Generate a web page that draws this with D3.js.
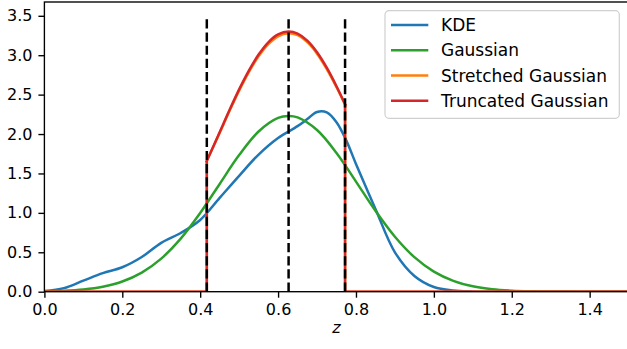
<!DOCTYPE html>
<html><head><meta charset="utf-8">
<script src="https://cdn.jsdelivr.net/npm/d3@7"></script>
<style>
html,body{margin:0;padding:0;background:#fff;}
svg{display:block;font-family:"DejaVu Sans",sans-serif;}
</style></head>
<body><svg id="c" width="627" height="349"></svg>
<script>
// ---- data ----
const kdeZ = [0,0.05,0.1,0.15,0.2,0.25,0.3,0.35,0.4,0.45,0.5,0.55,0.6,0.65,0.675,0.7,0.725,0.75,0.775,0.8,0.85,0.9,0.95,1.0,1.05,1.1,1.15,1.5];
const kdeVal = [0.01,0.045,0.14,0.235,0.31,0.44,0.62,0.745,0.91,1.19,1.47,1.74,1.95,2.10,2.19,2.28,2.275,2.15,1.92,1.62,1.05,0.50,0.20,0.06,0.015,0.003,0,0];

const gaussZ = [0,0.05,0.1,0.15,0.2,0.25,0.3,0.35,0.4,0.45,0.5,0.55,0.6,0.627,0.65,0.7,0.75,0.8,0.85,0.9,0.95,1.0,1.05,1.1,1.15,1.2,1.25,1.3,1.35,1.4,1.5];
const gaussVal = [0.005,0.012,0.029,0.064,0.130,0.243,0.420,0.673,0.998,1.367,1.733,2.032,2.204,2.229,2.211,2.051,1.760,1.397,1.026,0.697,0.438,0.254,0.137,0.068,0.031,0.013,0.005,0.002,0.001,0,0];

const cutZ = [0.417,0.45,0.475,0.5,0.525,0.55,0.575,0.6,0.627,0.65,0.675,0.7,0.725,0.75,0.772];
const truncVal = [1.658,2.023,2.301,2.566,2.805,3.008,3.164,3.263,3.30,3.273,3.184,3.037,2.841,2.606,2.377];
const stretchVal = [1.66,2.015,2.29,2.55,2.785,2.985,3.14,3.24,3.28,3.255,3.165,3.02,2.825,2.595,2.375];

const vLinesZ = [0.417,0.627,0.772];
const vLineTop = 3.5;
const zRange = [0,1.5];

const xTicks = [0,0.2,0.4,0.6,0.8,1.0,1.2,1.4];
const yTicks = [0,0.5,1.0,1.5,2.0,2.5,3.0,3.5];

const seriesNames = ["KDE","Gaussian","Stretched Gaussian","Truncated Gaussian"];
const seriesColors = ["#1f77b4","#2ca02c","#ff7f0e","#d62728"];

// ---- layout ----
const svg = d3.select("#c");
const L = 44.4, R = 628.6, T = 2, B = 291.7;
const x = d3.scaleLinear().domain([0,1.5]).range([L,R]);
const y = d3.scaleLinear().domain([0,3.675]).range([B,T]);

svg.append("defs").append("clipPath").attr("id","clip")
  .append("rect").attr("x",L).attr("y",T).attr("width",R-L).attr("height",B-T);

const plot = svg.append("g").attr("clip-path","url(#clip)");
const lw = 2.5;

const smooth = d3.line().x(d=>x(d[0])).y(d=>y(d[1])).curve(d3.curveCatmullRom.alpha(0.5));
const straight = d3.line().x(d=>x(d[0])).y(d=>y(d[1]));

function drawCurve(zs, vs, color){
  plot.append("path").attr("d", smooth(zs.map((z,i)=>[z,vs[i]])))
    .attr("fill","none").attr("stroke",color).attr("stroke-width",lw)
    .attr("stroke-linejoin","round").attr("stroke-linecap","square");
}
function drawCut(vs, color){
  const lo = cutZ[0], hi = cutZ[cutZ.length-1];
  drawCurve(cutZ, vs, color);
  [[[zRange[0],0],[lo,0],[lo,vs[0]]],[[hi,vs[vs.length-1]],[hi,0],[zRange[1],0]]].forEach(seg=>{
    plot.append("path").attr("d", straight(seg))
      .attr("fill","none").attr("stroke",color).attr("stroke-width",lw)
      .attr("stroke-linejoin","round");
  });
}

drawCurve(kdeZ, kdeVal, seriesColors[0]);
drawCurve(gaussZ, gaussVal, seriesColors[1]);
drawCut(stretchVal, seriesColors[2]);
drawCut(truncVal, seriesColors[3]);

vLinesZ.forEach(z=>{
  plot.append("line").attr("x1",x(z)).attr("x2",x(z)).attr("y1",y(0)).attr("y2",y(vLineTop))
    .attr("stroke","#000").attr("stroke-width",lw).attr("stroke-dasharray","9.19,3.97");
});

// ---- axes ----
const fs = 16;
const xAxis = d3.axisBottom(x).tickValues(xTicks).tickFormat(d3.format(".1f")).tickSize(6).tickPadding(6);
const yAxis = d3.axisLeft(y).tickValues(yTicks).tickFormat(d3.format(".1f")).tickSize(6).tickPadding(6);
const gx = svg.append("g").attr("transform",`translate(0,${B})`).call(xAxis);
const gy = svg.append("g").attr("transform",`translate(${L},0)`).call(yAxis);
[gx,gy].forEach(g=>{
  g.select(".domain").remove();
  g.selectAll(".tick line").attr("stroke","#000").attr("stroke-width",1.36);
  g.selectAll(".tick text").attr("fill","#000").attr("font-size",fs).attr("font-family","DejaVu Sans");
});
// spines
const sp = svg.append("g").attr("stroke","#000").attr("stroke-width",1.36).attr("fill","none");
sp.append("rect").attr("x",L).attr("y",T).attr("width",R-L).attr("height",B-T);

svg.append("text").attr("x",x(0.75)).attr("y",333).attr("text-anchor","middle")
  .attr("font-size",fs).attr("font-style","italic").text("z");

// ---- legend ----
const lg = svg.append("g");
lg.append("rect").attr("x",385).attr("y",10.7).attr("width",234.3).attr("height",107.6)
  .attr("rx",4).attr("fill","#fff").attr("fill-opacity",0.8).attr("stroke","#d0d0d0").attr("stroke-width",1.2);
seriesNames.forEach((n,i)=>{
  const cy = 25 + i*25.25;
  lg.append("line").attr("x1",391).attr("x2",428.3).attr("y1",cy).attr("y2",cy)
    .attr("stroke",seriesColors[i]).attr("stroke-width",lw);
  lg.append("text").attr("x",441).attr("y",cy).attr("dy","0.36em").attr("font-size",17).attr("fill","#000").text(n);
});
</script></body></html>
